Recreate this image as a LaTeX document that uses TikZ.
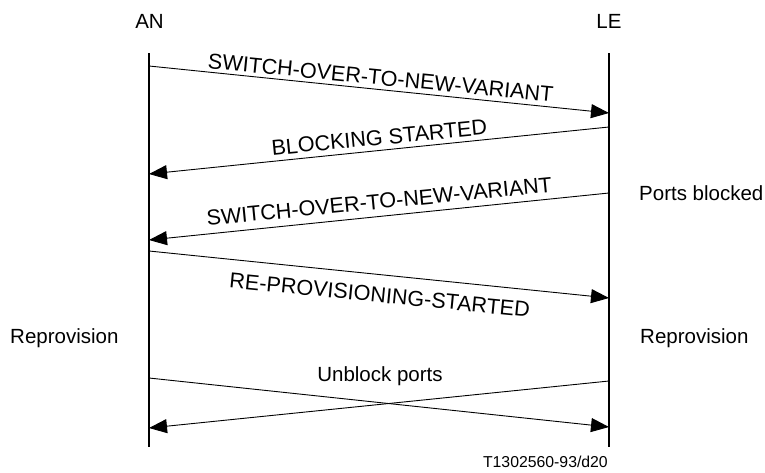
\documentclass[tikz,border=0pt]{standalone}
\usepackage{fontspec}
\setmainfont{Liberation Sans}
\usetikzlibrary{arrows.meta}
\begin{document}
\begin{tikzpicture}[x=1pt,y=-1pt,
  lbl/.style={font=\fontsize{20.5}{24}\selectfont, inner sep=0pt, anchor=base},
  rlbl/.style={lbl, font=\fontsize{21.6}{25}\selectfont},
  life/.style={line width=1.1pt},
  msg/.style={line width=0.9pt, -{Triangle[length=18pt,width=14pt]}}]
\useasboundingbox (0,0) rectangle (765,472);
% lifelines
\coordinate (anTop) at (149,53);
\coordinate (anBot) at (149,447);
\coordinate (leTop) at (609,53);
\coordinate (leBot) at (609,447);
\draw[life] (anTop) -- (anBot);
\draw[life] (leTop) -- (leBot);
\node[lbl] (an) at (149.5,28.3) {AN};
\node[lbl] (le) at (609,28.3) {LE};
% message endpoints
\coordinate (a1) at (149,66);  \coordinate (b1) at (609,113);
\coordinate (b2) at (609,127); \coordinate (a2) at (149,174);
\coordinate (b3) at (609,193); \coordinate (a3) at (149,240);
\coordinate (a4) at (149,251); \coordinate (b4) at (609,298);
\coordinate (a5) at (149,378); \coordinate (b5) at (609,427);
\coordinate (b6) at (609,381); \coordinate (a6) at (149,428);
\draw[msg] (a1) -- (b1);
\draw[msg] (b2) -- (a2);
\draw[msg] (b3) -- (a3);
\draw[msg] (a4) -- (b4);
\draw[msg] (a5) -- (b5);
\draw[msg] (b6) -- (a6);
% message labels
\node[rlbl, rotate=-5.6] (m1) at (380,85) {SWITCH-OVER-TO-NEW-VARIANT};
\node[rlbl, rotate=5.6] (m2) at (380,145) {BLOCKING STARTED};
\node[rlbl, rotate=5.6] (m3) at (380,209) {SWITCH-OVER-TO-NEW-VARIANT};
\node[rlbl, rotate=-5.6] (m4) at (379,302.5) {RE-PROVISIONING-STARTED};
\node[lbl] (m5) at (380,381.7) {Unblock ports};
% side notes
\node[lbl, anchor=base west] (pb) at (639,200) {Ports blocked};
\node[lbl, anchor=base west] (rl) at (10,343.3) {Reprovision};
\node[lbl, anchor=base west] (rr) at (640,343.3) {Reprovision};
\node[lbl, anchor=base east, font=\fontsize{15.8}{19}\selectfont] (cap) at (608,467.5) {T1302560-93/d20};
\end{tikzpicture}
\end{document}
